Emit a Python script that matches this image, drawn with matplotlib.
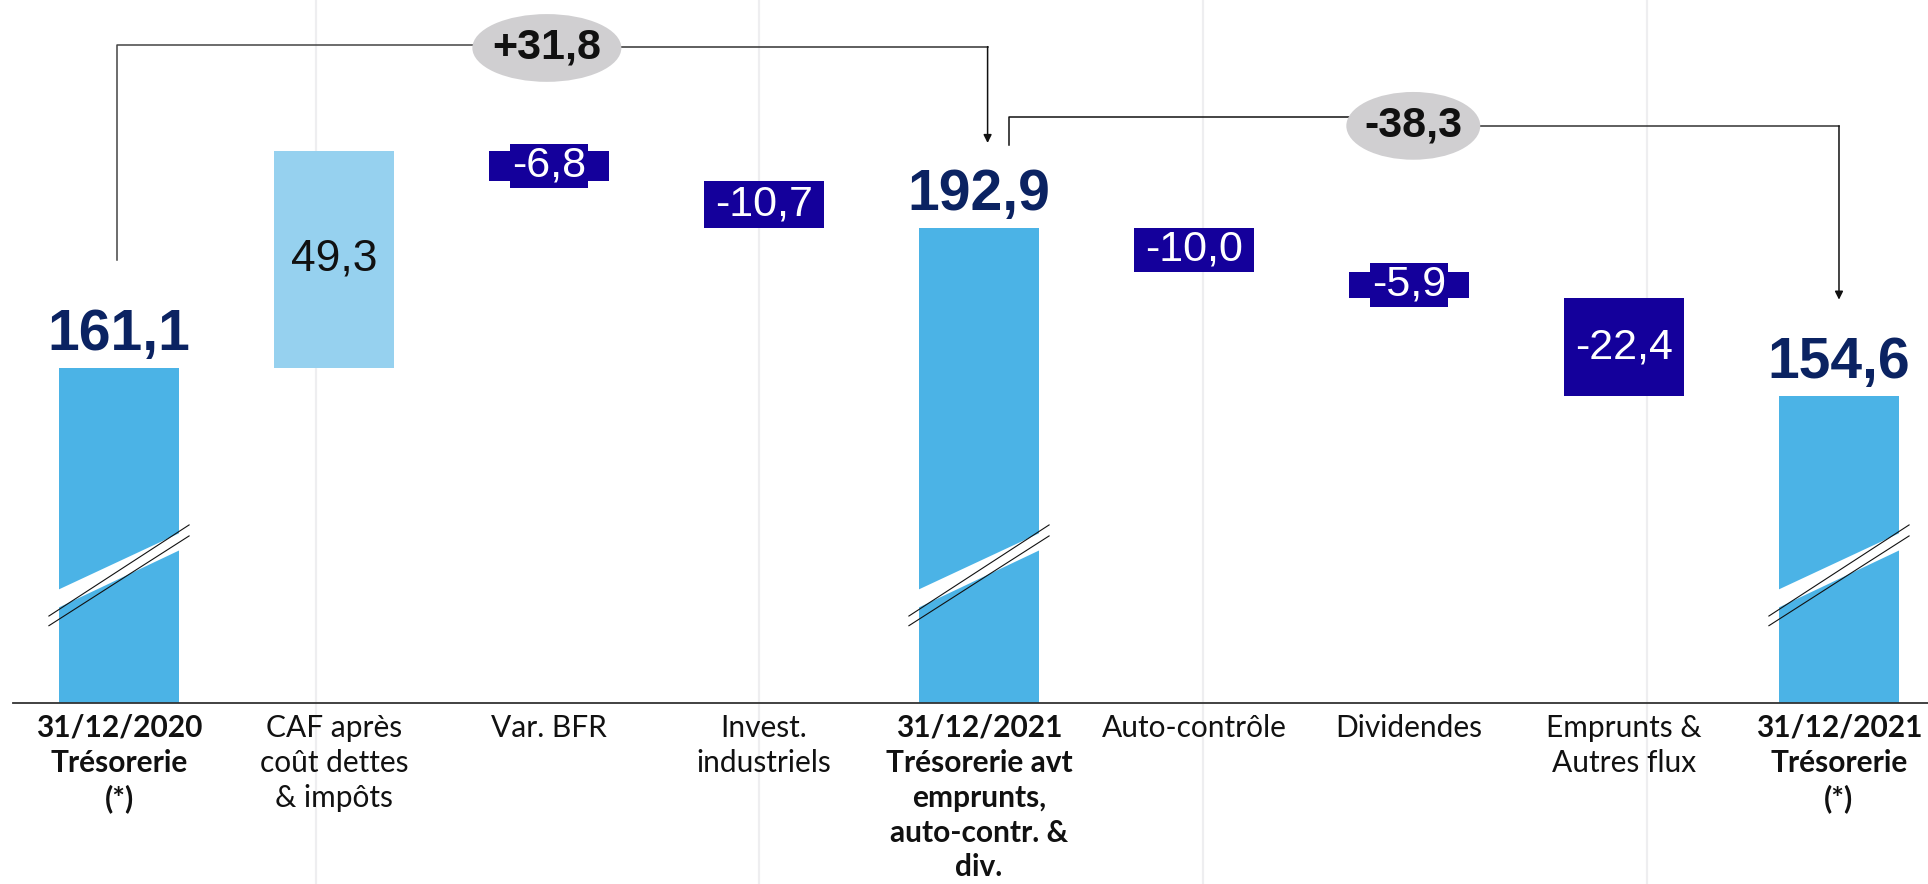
import numpy as np
import matplotlib.pyplot as plt
from matplotlib.patches import Ellipse, Polygon

# categories and values (in M€)
categories = ["31/12/2020\nTrésorerie\n(*)", "CAF après\ncoût dettes\n& impôts", "Var. BFR",
              "Invest.\nindustriels", "31/12/2021\nTrésorerie avt\nemprunts,\nauto-contr. &\ndiv.",
              "Auto-contrôle", "Dividendes", "Emprunts &\nAutres flux", "31/12/2021\nTrésorerie\n(*)"]
values = [161.1, 49.3, -6.8, -10.7, 192.9, -10.0, -5.9, -22.4, 154.6]
is_total = [True, False, False, False, True, False, False, False, True]

col_total = '#4BB3E6'
col_pos = '#96D1EF'
col_neg = '#14009B'
col_navy = '#0B2362'
num_font = ['Liberation Sans', 'DejaVu Sans']
lab_font = ['Lato', 'DejaVu Sans']

def fmt(v, sign=False):
    s = f"{v:+.1f}" if sign else f"{v:.1f}"
    return s.replace('.', ',')

fig = plt.figure(figsize=(19.28, 8.84), dpi=100)
ax = fig.add_axes([0, 181.3 / 884, 1, 702.7 / 884])
y_bottom, y_top = 85.0, 244.7
ax.set_xlim(-0.5535, 8.414)
ax.set_ylim(y_bottom, y_top)
for s in ax.spines.values():
    s.set_visible(False)

x = np.arange(len(values))
bw = 0.56

# faint background lines
for gx in [0.916, 2.977, 5.042, 7.107]:
    ax.axvline(gx, ymin=-0.26, ymax=1, color='#EEEEF0', lw=1.6, zorder=0, clip_on=False)

# waterfall geometry
bottoms, heights, colors = [], [], []
level = 0
for v, tot in zip(values, is_total):
    if tot:
        bottoms.append(0)
        heights.append(v)
        colors.append(col_total)
        level = v
    else:
        new = level + v
        bottoms.append(min(level, new))
        heights.append(abs(v))
        colors.append(col_pos if v > 0 else col_neg)
        level = new

ax.bar(x, heights, bottom=bottoms, width=bw, color=colors, zorder=2)

for i, v in enumerate(values):
    top = bottoms[i] + heights[i]
    mid = bottoms[i] + heights[i] / 2
    if is_total[i]:
        ax.annotate(fmt(v), (x[i], top), xytext=(0, 13), textcoords='offset points',
                    ha='center', va='baseline', fontsize=41, fontweight='bold',
                    color=col_navy, family=num_font, zorder=5)
        # axis break mark
        hw = bw / 2 + 0.004
        ax.add_patch(Polygon([(x[i] - hw, 110.65), (x[i] + hw, 123.6), (x[i] + hw, 119.7),
                              (x[i] - hw, 106.55)], closed=True, color='white', lw=0, zorder=3))
        ax.plot([x[i] - 0.326, x[i] + 0.326], [104.7, 125.4], color='#111111', lw=0.8, zorder=4)
        ax.plot([x[i] - 0.326, x[i] + 0.326], [102.5, 122.9], color='#111111', lw=0.8, zorder=4)
    elif v > 0:
        ax.text(x[i], mid, fmt(v), ha='center', va='center', fontsize=32,
                color='#111111', family=num_font, zorder=5)
    else:
        ax.text(x[i], mid, fmt(v), ha='center', va='center', fontsize=31,
                color='white', family=num_font, zorder=5,
                bbox=dict(boxstyle='square,pad=0.05', fc=col_neg, ec='none'))

# bracket connectors with variation bubbles
tot_idx = [i for i in range(len(values)) if is_total[i]]
line_col = '#333333'

def bubble(cx, cy, w, txt):
    ax.add_patch(Ellipse((cx, cy), w, 15.4, color='#D0CFD1', zorder=6, lw=0))
    ax.text(cx, cy, txt, ha='center', va='center', fontsize=31, fontweight='bold',
            color='#111111', family=num_font, zorder=7)

# first bracket: 161,1 -> 192,9
a, b = tot_idx[0], tot_idx[1]
d1 = values[b] - values[a]
ax.plot([x[a] - 0.01, x[a] - 0.01, 1.99], [values[a] + 24.5, 234.5, 234.5],
        color='#444444', lw=1.1, zorder=5)
ax.plot([1.99, x[b] + 0.04], [234.1, 234.1], color=line_col, lw=1.1, zorder=5)
ax.annotate('', xy=(x[b] + 0.04, values[b] + 19.3), xytext=(x[b] + 0.04, 234.1),
            arrowprops=dict(arrowstyle='-|>', color='#111111', lw=1.1,
                            mutation_scale=12, shrinkA=0, shrinkB=0), zorder=5)
bubble(1.99, 233.8, 0.693, fmt(d1, sign=True))

# second bracket: 192,9 -> 154,6
a, b = tot_idx[1], tot_idx[2]
d2 = values[b] - values[a]
ax.plot([x[a] + 0.14, x[a] + 0.14, 6.02], [values[a] + 18.9, 218.1, 218.1],
        color='#111111', lw=1.1, zorder=5)
ax.plot([6.02, x[b]], [216.1, 216.1], color=line_col, lw=1.1, zorder=5)
ax.annotate('', xy=(x[b], values[b] + 22), xytext=(x[b], 216.1),
            arrowprops=dict(arrowstyle='-|>', color='#111111', lw=1.1,
                            mutation_scale=12, shrinkA=0, shrinkB=0), zorder=5)
bubble(6.02, 216.1, 0.623, fmt(d2, sign=True))

# baseline
ax.axhline(y_bottom, xmin=12.7 / 1928, xmax=1, color='#333333', lw=1.3, zorder=6, clip_on=False)

ax.set_xticks(x)
ax.set_xticklabels(categories, fontsize=21.5, family=lab_font, color='#111111', linespacing=1.3)
ax.tick_params(axis='x', length=0, pad=8)
ax.tick_params(axis='y', left=False, labelleft=False)
for lbl, tot in zip(ax.get_xticklabels(), is_total):
    lbl.set_fontweight('bold' if tot else 'normal')

fig.savefig('out.png', dpi=100, facecolor='white')
